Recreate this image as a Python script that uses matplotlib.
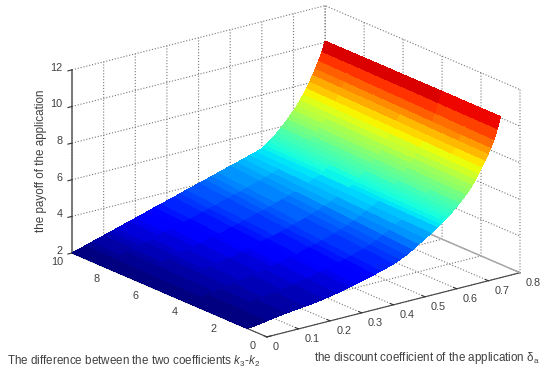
import numpy as np
import matplotlib
matplotlib.use("Agg")
import matplotlib.pyplot as plt
from mpl_toolkits.mplot3d import proj3d

plt.rcParams["font.family"] = ["Liberation Sans", "DejaVu Sans"]
plt.rcParams["mathtext.fontset"] = "custom"
plt.rcParams["mathtext.rm"] = "Liberation Sans"
plt.rcParams["mathtext.it"] = "Liberation Sans:italic"

# values
delta = [0.00, 0.02, 0.04, 0.06, 0.08, 0.10, 0.12, 0.14, 0.16, 0.18, 0.20, 0.22, 0.24,
         0.26, 0.28, 0.30, 0.32, 0.34, 0.36, 0.38, 0.40, 0.42, 0.44, 0.46, 0.48, 0.50,
         0.52, 0.54, 0.56, 0.58, 0.60, 0.61, 0.62, 0.63, 0.64, 0.65, 0.66, 0.67, 0.68,
         0.69, 0.70, 0.71, 0.72, 0.73, 0.74, 0.75, 0.76, 0.77, 0.78, 0.79, 0.80]
k_diff = [1, 2.5, 4, 5.5, 7, 8.5, 10]
payoff_k1 = [2.00, 2.04, 2.09, 2.14, 2.20, 2.25, 2.30, 2.34, 2.38, 2.41, 2.45, 2.50, 2.55,
             2.61, 2.68, 2.76, 2.84, 2.92, 3.00, 3.09, 3.19, 3.29, 3.39, 3.50, 3.64, 3.80,
             4.00, 4.22, 4.44, 4.65, 4.88, 5.00, 5.13, 5.27, 5.42, 5.57, 5.73, 5.90, 6.08,
             6.27, 6.47, 6.70, 6.95, 7.22, 7.52, 7.84, 8.17, 8.51, 8.90, 9.45, 10.07]
payoff_k2 = [2.00, 2.05, 2.11, 2.17, 2.23, 2.29, 2.35, 2.40, 2.45, 2.50, 2.54, 2.60, 2.66,
             2.73, 2.80, 2.89, 2.97, 3.05, 3.14, 3.23, 3.33, 3.43, 3.53, 3.64, 3.77, 3.92,
             4.11, 4.31, 4.51, 4.70, 4.91, 5.03, 5.16, 5.30, 5.45, 5.60, 5.76, 5.93, 6.11,
             6.31, 6.51, 6.73, 6.98, 7.25, 7.55, 7.87, 8.20, 8.54, 8.93, 9.46, 10.07]
payoff_k4 = [2.00, 2.06, 2.13, 2.20, 2.27, 2.34, 2.40, 2.46, 2.53, 2.58, 2.64, 2.71, 2.77,
             2.85, 2.93, 3.02, 3.10, 3.19, 3.28, 3.37, 3.47, 3.57, 3.67, 3.78, 3.91, 4.05,
             4.22, 4.40, 4.58, 4.75, 4.94, 5.06, 5.19, 5.33, 5.48, 5.63, 5.80, 5.97, 6.15,
             6.35, 6.55, 6.77, 7.02, 7.29, 7.59, 7.90, 8.23, 8.58, 8.97, 9.48, 10.07]
payoff_k5 = [2.00, 2.07, 2.15, 2.23, 2.31, 2.38, 2.46, 2.53, 2.60, 2.67, 2.74, 2.81, 2.89,
             2.97, 3.06, 3.15, 3.24, 3.33, 3.42, 3.52, 3.62, 3.72, 3.82, 3.93, 4.05, 4.18,
             4.33, 4.49, 4.65, 4.81, 4.97, 5.09, 5.22, 5.36, 5.51, 5.67, 5.83, 6.01, 6.19,
             6.39, 6.59, 6.81, 7.06, 7.33, 7.62, 7.94, 8.27, 8.62, 9.00, 9.50, 10.07]
payoff_k7 = [2.00, 2.08, 2.16, 2.25, 2.34, 2.42, 2.51, 2.59, 2.67, 2.75, 2.83, 2.91, 3.00,
             3.09, 3.18, 3.27, 3.37, 3.46, 3.56, 3.66, 3.76, 3.86, 3.96, 4.07, 4.18, 4.30,
             4.43, 4.57, 4.72, 4.86, 5.00, 5.12, 5.25, 5.39, 5.54, 5.70, 5.86, 6.04, 6.23,
             6.42, 6.62, 6.85, 7.09, 7.36, 7.65, 7.97, 8.30, 8.65, 9.03, 9.52, 10.07]
payoff_k8 = [2.00, 2.09, 2.18, 2.28, 2.38, 2.47, 2.56, 2.65, 2.75, 2.84, 2.93, 3.02, 3.11,
             3.21, 3.31, 3.40, 3.50, 3.60, 3.70, 3.80, 3.90, 4.00, 4.10, 4.21, 4.32, 4.43,
             4.54, 4.66, 4.79, 4.91, 5.03, 5.15, 5.28, 5.42, 5.57, 5.73, 5.90, 6.08, 6.27,
             6.46, 6.66, 6.89, 7.13, 7.40, 7.69, 8.00, 8.33, 8.69, 9.07, 9.54, 10.07]
payoff_k10 = [2.00, 2.10, 2.20, 2.31, 2.41, 2.51, 2.61, 2.71, 2.82, 2.92, 3.02, 3.12, 3.22,
              3.33, 3.43, 3.53, 3.63, 3.73, 3.84, 3.94, 4.04, 4.14, 4.24, 4.35, 4.45, 4.55,
              4.65, 4.75, 4.86, 4.96, 5.06, 5.18, 5.31, 5.45, 5.60, 5.76, 5.93, 6.11, 6.30,
              6.50, 6.70, 6.92, 7.16, 7.43, 7.72, 8.03, 8.36, 8.72, 9.10, 9.55, 10.07]
x_ticks = [0, 0.1, 0.2, 0.3, 0.4, 0.5, 0.6, 0.7, 0.8]
x_labels = ["0", "0.1", "0.2", "0.3", "0.4", "0.5", "0.6", "0.7", "0.8"]
y_ticks = [0, 2, 4, 6, 8, 10]
z_ticks = [2, 4, 6, 8, 10, 12]

W, H = 550, 379
TEXT = "#404040"
TICK_FS = 7.8
LABEL_FS = 8.4

fig = plt.figure(figsize=(W / 100, H / 100), dpi=100)
ax = fig.add_axes([0, 0, 1, 1], projection="3d", proj_type="ortho")
ax.view_init(elev=19.3, azim=-127.5)
ax.set_box_aspect((319, 320, 194))
ax.patch.set_alpha(0)
ax.set_xlim(0, 0.8, view_margin=0)
ax.set_ylim(0, 10, view_margin=0)
ax.set_zlim(2, 12, view_margin=0)

# jet with 64 levels, each facet takes the colour of its lower row like matlab flat shading
X, Y = np.meshgrid(delta, k_diff)
Z = np.array([payoff_k1, payoff_k2, payoff_k4, payoff_k5, payoff_k7, payoff_k8, payoff_k10])
jet = plt.get_cmap("jet", 64)
cols = jet((Z - 2.0) / 8.25)
ax.plot_surface(X, Y, Z, facecolors=cols, rcount=Z.shape[0], ccount=Z.shape[1],
                shade=False, linewidth=0, antialiased=False)

# floor edge at the far right
ax.plot([0.8, 0.8], [0, 10], [2, 2], color="#aaaaaa", lw=1, zorder=0)

ax.set_xticks(x_ticks)
ax.set_yticks(y_ticks)
ax.set_zticks(z_ticks)
ax.set_xticklabels([])
ax.set_yticklabels([])
ax.set_zticklabels([])
for axis in (ax.xaxis, ax.yaxis, ax.zaxis):
    axis.set_pane_color((1, 1, 1, 0))
    axis.pane.set_edgecolor((1, 1, 1, 0))
    axis._axinfo["grid"].update(color="#777777", linestyle=":", linewidth=0.8)
    axis._axinfo["tick"].update(inward_factor=0.0, outward_factor=0.2)
    axis.line.set_color("#444444")
    axis.set_tick_params(color="#333333")
ax.zaxis.line.set_color("#666666")
ax.zaxis.line.set_linewidth(1.2)
# z ticks run along y and away from the box
ax.zaxis._axinfo["tickdir"] = 1
ax.zaxis._axinfo["tick"].update(outward_factor=-0.2)

# fit the box onto the reference corners (pixels)
fig.canvas.draw()
def to_px(x, y, z):
    x2, y2, _ = proj3d.proj_transform(x, y, z, ax.get_proj())
    return ax.transData.transform((x2, y2))
a, b = to_px(0, 10, 2), to_px(0.8, 0, 2)
scale = (520 - 72) / (b[0] - a[0])
p = ax.get_position()
p0 = np.array([p.x0 * W, p.y0 * H])
new0 = np.array([72, H - 253]) - (a - p0) * scale
ax.set_position([new0[0] / W, new0[1] / H, p.width * scale, p.height * scale])
fig.canvas.draw()

def tick_text(pt, dx, dy, s, ha):
    px = to_px(*pt)
    fig.text((px[0] + dx) / W, (px[1] - dy) / H, s, fontsize=TICK_FS, color=TEXT,
             ha=ha, va="center")

for v, s in zip(x_ticks, x_labels):
    tick_text((v, 0, 2), 6, 10.5, s, "left")
for v in y_ticks:
    tick_text((0, v, 2), -14.5, 9, str(v), "center")
for v in z_ticks:
    tick_text((0, 10, v), -9.3, -2, str(v), "right")

fig.text(7 / W, 1 - 361 / H, r"The difference between the two coefficients $k_3$-$k_2$",
         fontsize=LABEL_FS, color=TEXT, va="center", ha="left")
fig.text(314 / W, 1 - 358 / H, r"the discount coefficient of the application $\mathrm{\delta}_{\mathrm{a}}$",
         fontsize=LABEL_FS, color=TEXT, va="center", ha="left")
fig.text(41 / W, 1 - 161 / H, "the payoff of the application", rotation=90,
         fontsize=LABEL_FS, color=TEXT, va="center", ha="center")

fig.savefig("out.png", dpi=100)
